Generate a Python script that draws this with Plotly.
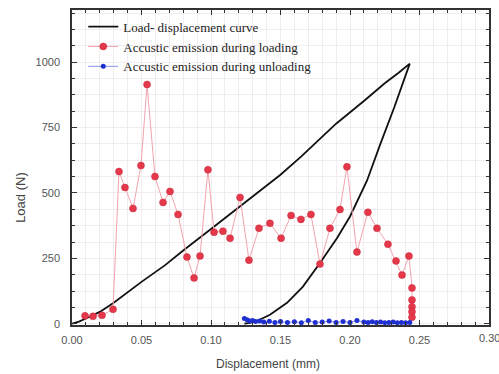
import plotly.graph_objects as go

# Load-displacement curve (loading then unloading)
curve_x = [0.0, 0.005, 0.01, 0.02, 0.03, 0.04, 0.05, 0.067, 0.08, 0.10, 0.12, 0.15, 0.165, 0.178, 0.19, 0.21, 0.225, 0.235, 0.243,
           0.240, 0.232, 0.222, 0.2122, 0.20, 0.1906, 0.1784, 0.166, 0.1547, 0.1424, 0.135, 0.128, 0.124]
curve_y = [0, 8, 20, 45, 80, 120, 160, 224, 280, 362, 445, 570, 640, 705, 765, 852, 920, 960, 995,
           950, 830, 690, 547, 410, 327, 232, 141, 80, 34, 15, 3, 0]

# Acoustic emission during loading
load_x = [0.0094, 0.0151, 0.0216, 0.0295, 0.0338, 0.0381, 0.0439, 0.0496, 0.054, 0.0597, 0.0655, 0.0705,
          0.0763, 0.0827, 0.0878, 0.0921, 0.0978, 0.1022, 0.1086, 0.1137, 0.1209, 0.1273, 0.1345, 0.1424,
          0.1504, 0.1576, 0.1647, 0.1719, 0.1784, 0.1856, 0.1928, 0.1978, 0.205, 0.2129, 0.2194, 0.2273,
          0.2331, 0.2374, 0.2424, 0.2446, 0.2446, 0.2446, 0.2446, 0.2446]
load_y = [30, 28, 32, 55, 582, 521, 441, 605, 915, 563, 464, 506,
          418, 255, 175, 259, 589, 350, 354, 327, 483, 243, 365, 384,
          327, 414, 399, 418, 228, 365, 437, 600, 274, 426, 365, 304,
          240, 186, 259, 137, 91, 65, 46, 25]

# Acoustic emission during unloading
unload_x = [0.124, 0.126, 0.128, 0.130, 0.132, 0.135, 0.138, 0.142, 0.146, 0.150, 0.155, 0.160, 0.165,
            0.170, 0.175, 0.180, 0.185, 0.190, 0.195, 0.200, 0.205, 0.210, 0.213, 0.216, 0.219, 0.222,
            0.225, 0.228, 0.231, 0.234, 0.237, 0.240, 0.243]
unload_y = [20, 15, 10, 12, 8, 10, 6, 9, 5, 8, 5, 7, 4, 12, 5, 6, 10, 5, 8, 5, 12, 6, 5, 7, 5, 6,
            4, 5, 6, 4, 5, 4, 5]

x_ticks = [0.0, 0.05, 0.10, 0.15, 0.20, 0.25]
x_labels = ["0.00", "0.05", "0.10", "0.15", "0.20", "0.25"]
x_last_tick = 0.30
x_last_label = "0.30"
y_ticks = [0, 250, 500, 750, 1000]

fig = go.Figure()
fig.add_trace(go.Scatter(x=curve_x, y=curve_y, mode="lines", name="Load- displacement curve",
                         line=dict(color="#111111", width=1.8)))
fig.add_trace(go.Scatter(x=load_x, y=load_y, mode="lines+markers", name="Accustic emission during loading",
                         line=dict(color="#f2a3ae", width=1),
                         marker=dict(color="#e5384a", size=7, line=dict(color="#c42838", width=0.5))))
fig.add_trace(go.Scatter(x=unload_x, y=unload_y, mode="lines+markers", name="Accustic emission during unloading",
                         line=dict(color="#8a94f0", width=1),
                         marker=dict(color="#1f2fd0", size=5)))

tick_font = dict(family="Liberation Sans, Arial", size=11, color="#555555")
axis_common = dict(showline=True, linecolor="#333333", linewidth=1.5, mirror="ticks",
                   ticks="inside", ticklen=5, tickwidth=1.2, tickcolor="#333333",
                   showgrid=True, gridcolor="#f1ecef", gridwidth=1, zeroline=False,
                   tickfont=tick_font)

fig.update_xaxes(range=[0, 0.30], tickvals=x_ticks + [x_last_tick], ticktext=x_labels + [""],
                 minor=dict(dtick=0.01, tick0=0, ticks="inside", ticklen=3, tickcolor="#333333",
                            showgrid=True, gridcolor="#f1ecef"),
                 ticklabelstandoff=4,
                 **axis_common)
fig.update_yaxes(range=[-5, 1200], tickvals=y_ticks,
                 minor=dict(dtick=62.5, tick0=0, ticks="inside", ticklen=3, tickcolor="#333333",
                            showgrid=True, gridcolor="#f1ecef"),
                 ticklabelstandoff=8,
                 **axis_common)

# last x tick label sits at the right edge of the page (partly cut, as in the original)
fig.add_annotation(text=x_last_label, x=x_last_tick, y=-0.015, xref="x", yref="paper",
                   showarrow=False, yanchor="top", xanchor="center", font=tick_font)

fig.add_annotation(text="Displacement (mm)", x=0.47, y=-0.095, xref="paper", yref="paper",
                   showarrow=False, yanchor="top", xanchor="center",
                   font=dict(family="Liberation Sans, Arial", size=12, color="#444444"))
fig.add_annotation(text="Load (N)", x=-0.122, y=0.404, xref="paper", yref="paper",
                   showarrow=False, textangle=-90, xanchor="center", yanchor="middle",
                   font=dict(family="Liberation Sans, Arial", size=13, color="#444444"))

fig.update_layout(
    width=499, height=374,
    margin=dict(l=72, r=10, t=8, b=49),
    paper_bgcolor="white", plot_bgcolor="white",
    showlegend=True,
    legend=dict(x=0.027, y=0.995, xanchor="left", yanchor="top",
                bgcolor="rgba(0,0,0,0)",
                font=dict(family="Liberation Serif, Times New Roman", size=13, color="#222222")),
)

fig.write_html("out.html")
